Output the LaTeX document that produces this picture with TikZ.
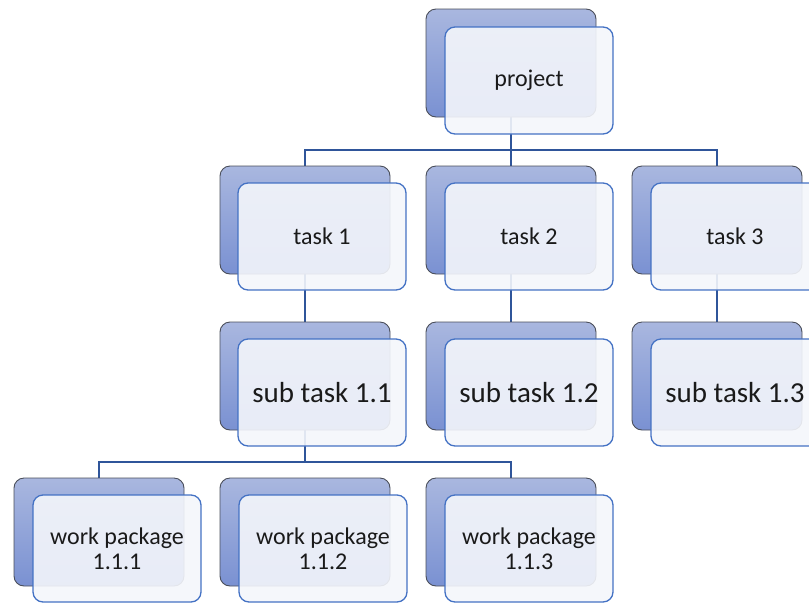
\documentclass[tikz,border=0pt]{standalone}
\usepackage{fontspec}
\setmainfont{Carlito}
\usetikzlibrary{backgrounds}
\definecolor{backtop}{HTML}{A9B7DF}
\definecolor{backbot}{HTML}{7A91D2}
\definecolor{backedge}{HTML}{4A4E5A}
\definecolor{frontedge}{HTML}{4472C4}
\definecolor{frontfill}{HTML}{F4F6FB}
\definecolor{connc}{HTML}{2F559A}
\definecolor{txt}{HTML}{1A1A1A}
\tikzset{
  backbox/.style={draw=backedge, line width=0.9pt, rounded corners=10pt,
    top color=backtop, bottom color=backbot, anchor=north west,
    minimum width=170pt, minimum height=108pt, inner sep=0pt, outer sep=0pt},
  frontbox/.style={draw=frontedge, line width=1.3pt, rounded corners=10pt,
    fill=frontfill, fill opacity=0.9, text opacity=1, anchor=north west,
    minimum width=168pt, minimum height=107pt, inner sep=0pt, outer sep=0pt,
    text=txt, align=center, font=\fontsize{24}{25}\selectfont},
  bigtext/.style={font=\fontsize{29}{34}\selectfont},
  conn/.style={draw=connc, line width=2.4pt}
}
\begin{document}
\begin{tikzpicture}[x=1pt,y=-1pt]
\useasboundingbox (0,0) rectangle (809,603);
\coordinate (j1) at (511,150);
\coordinate (j2) at (305,462);
% back boxes
\node[backbox] (pb)  at (426,9)   {};
\node[backbox] (t1b) at (220,166) {};
\node[backbox] (t2b) at (426,166) {};
\node[backbox] (t3b) at (632,166) {};
\node[backbox] (s1b) at (220,322) {};
\node[backbox] (s2b) at (426,322) {};
\node[backbox] (s3b) at (632,322) {};
\node[backbox] (w1b) at (14,478)  {};
\node[backbox] (w2b) at (220,478) {};
\node[backbox] (w3b) at (426,478) {};
% connectors behind the boxes
\begin{pgfonlayer}{background}
\draw[conn] (pb.south) -- (t2b.north);
\draw[conn] (t1b.north) |- (t3b.north |- j1) -- (t3b.north);
\draw[conn] (t1b.south) -- (s1b.north);
\draw[conn] (t2b.south) -- (s2b.north);
\draw[conn] (t3b.south) -- (s3b.north);
\draw[conn] (s1b.south) -- (j2);
\draw[conn] (w1b.north) |- (w3b.north |- j2) -- (w3b.north);
\end{pgfonlayer}
% front boxes
\node[frontbox] (pf) at (445,27) {project};
\node[frontbox] (t1f) at (238,183) {task 1};
\node[frontbox] (t2f) at (445,183) {task 2};
\node[frontbox] (t3f) at (651,183) {task 3};
\node[frontbox, bigtext] (s1f) at (238,339) {sub task 1.1};
\node[frontbox, bigtext] (s2f) at (445,339) {sub task 1.2};
\node[frontbox, bigtext] (s3f) at (651,339) {sub task 1.3};
\node[frontbox] (w1f) at (33,495) {work package\\1.1.1};
\node[frontbox] (w2f) at (239,495) {work package\\1.1.2};
\node[frontbox] (w3f) at (445,495) {work package\\1.1.3};
\end{tikzpicture}
\end{document}
